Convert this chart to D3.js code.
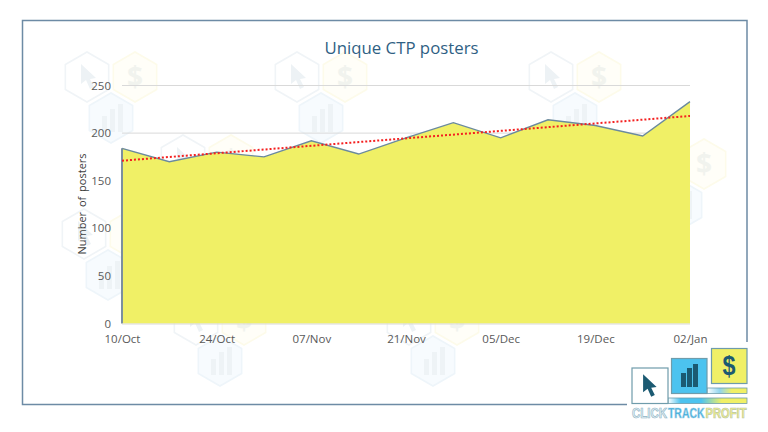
<!DOCTYPE html>
<html>
<head>
<meta charset="utf-8">
<script src="https://cdnjs.cloudflare.com/ajax/libs/d3/7.8.5/d3.min.js"></script>
<style>
html, body { margin: 0; padding: 0; background: #fff; }
svg { display: block; }
text { font-family: "Open Sans", "Noto Sans", sans-serif; }
</style>
</head>
<body>
<svg id="chart" width="768" height="432"></svg>
<script>
var weeks = ["10/Oct", "17/Oct", "24/Oct", "31/Oct", "07/Nov", "14/Nov", "21/Nov", "28/Nov", "05/Dec", "12/Dec", "19/Dec", "26/Dec", "02/Jan"];
var posters = [184, 170, 180, 175, 192, 178, 195, 211, 195, 214, 208, 197, 233];
var trendEnds = [171, 218];
var yTicks = [0, 50, 100, 150, 200, 250];
var xTicks = ["10/Oct", "24/Oct", "07/Nov", "21/Nov", "05/Dec", "19/Dec", "02/Jan"];
var watermarks = [[111, 118], [321, 118], [575, 118], [207, 201], [435, 201], [680, 205], [108, 275], [220, 361], [433, 361]];

var svg = d3.select("#chart");
var margin = {top: 85.5, bottom: 323.5, left: 122, right: 690};

var x = d3.scalePoint().domain(weeks).range([margin.left, margin.right]);
var y = d3.scaleLinear().domain([0, 250]).range([margin.bottom, margin.top]);

// background logo pattern, drawn first so the chart sits over it
function hexPath(r) {
    var pts = d3.range(6).map(function (i) {
        var a = Math.PI / 3 * i + Math.PI / 6;
        return [r * Math.cos(a), r * Math.sin(a)];
    });
    return d3.line()(pts) + "Z";
}
var cursorPath = "M-6,-13 L-6,7 L-1,3 L3,12 L7,10 L3,2 L9,1 Z";
var mark = svg.append("g").attr("class", "watermark").selectAll("g")
    .data(watermarks).enter().append("g")
    .attr("transform", function (d) { return "translate(" + d[0] + "," + d[1] + ")"; });

// bars hex
mark.append("path").attr("d", hexPath(25)).attr("fill", "#f7fbfe").attr("stroke", "#eef5fa").attr("stroke-width", 1.6);
[-9, -1, 7].forEach(function (dx, i) {
    mark.append("rect").attr("x", dx).attr("width", 5)
        .attr("y", [-2, -9, -14][i]).attr("height", [16, 23, 28][i]).attr("fill", "#eef3f6");
});
// cursor hex
var cur = mark.append("g").attr("transform", "translate(-24,-41)");
cur.append("path").attr("d", hexPath(25)).attr("fill", "#fff").attr("stroke", "#f0f4f7").attr("stroke-width", 1.6);
cur.append("path").attr("d", cursorPath).attr("fill", "#edf2f5");
// dollar hex
var dol = mark.append("g").attr("transform", "translate(24,-41)");
dol.append("path").attr("d", hexPath(25)).attr("fill", "#fffef8").attr("stroke", "#fdfbea").attr("stroke-width", 1.6);
dol.append("text").attr("text-anchor", "middle").attr("y", 10).attr("font-size", 28)
    .attr("font-weight", 700).attr("fill", "#f1f3ee").text("$");

// frame, open at the lower right where the logo sits
svg.append("path")
    .attr("d", "M627,404.5 H22.5 V20.5 H747 V342")
    .attr("fill", "none").attr("stroke", "#6d8ba5").attr("stroke-width", 1.5);

// gridlines
svg.append("g").selectAll("line")
    .data(yTicks.slice(1)).enter().append("line")
    .attr("x1", margin.left).attr("x2", margin.right)
    .attr("y1", function (d) { return y(d); }).attr("y2", function (d) { return y(d); })
    .attr("stroke", "#d9d9d9").attr("stroke-width", 1);

// area and its outline
var area = d3.area()
    .x(function (d, i) { return x(weeks[i]); })
    .y0(y(0))
    .y1(function (d) { return y(d); });
svg.append("path").datum(posters).attr("d", area).attr("fill", "#f0f066");

var outline = d3.line()
    .x(function (d, i) { return x(weeks[i]); })
    .y(function (d) { return y(d); });
svg.append("path").datum(posters).attr("d", outline)
    .attr("fill", "none").attr("stroke", "#6b8a9e").attr("stroke-width", 1.4);
svg.append("line")
    .attr("x1", x(weeks[0])).attr("x2", x(weeks[0]))
    .attr("y1", y(0)).attr("y2", y(posters[0]))
    .attr("stroke", "#7b8f9f").attr("stroke-width", 2);
svg.append("line")
    .attr("x1", margin.left).attr("x2", margin.right)
    .attr("y1", y(0) + 0.5).attr("y2", y(0) + 0.5)
    .attr("stroke", "#d9d9d9").attr("stroke-width", 1);

// trendline
svg.append("line")
    .attr("x1", x(weeks[0])).attr("x2", x(weeks[weeks.length - 1]))
    .attr("y1", y(trendEnds[0])).attr("y2", y(trendEnds[1]))
    .attr("stroke", "#f42020").attr("stroke-width", 2).attr("stroke-dasharray", "2 2");

// axes
var yAxis = d3.axisLeft(y).tickValues(yTicks).tickSize(0).tickPadding(11);
var gy = svg.append("g").attr("transform", "translate(" + margin.left + ",0)").call(yAxis);
gy.select(".domain").remove();
gy.selectAll("text").attr("font-size", 11.5).attr("fill", "#595959")
    .style("font-family", '"Open Sans", sans-serif');

var xAxis = d3.axisBottom(x).tickValues(xTicks).tickSize(0).tickPadding(11);
var gx = svg.append("g").attr("transform", "translate(0," + margin.bottom + ")").call(xAxis);
gx.select(".domain").remove();
gx.selectAll("text").attr("font-size", 11.5).attr("fill", "#595959")
    .style("font-family", '"Open Sans", sans-serif');

svg.append("text")
    .attr("x", 401.5).attr("y", 54).attr("text-anchor", "middle")
    .attr("font-size", 16.8).attr("fill", "#2f5f84").text("Unique CTP posters");

svg.append("text")
    .attr("transform", "translate(85.5,204) rotate(-90)").attr("text-anchor", "middle")
    .attr("font-size", 11).attr("fill", "#404040").attr("word-spacing", 2).text("Number of posters");

// logo
var defs = svg.append("defs");
var stripLong = defs.append("linearGradient").attr("id", "stripLong");
stripLong.append("stop").attr("offset", "0%").attr("stop-color", "#ffffff");
stripLong.append("stop").attr("offset", "16%").attr("stop-color", "#4cc3ef");
stripLong.append("stop").attr("offset", "42%").attr("stop-color", "#4cc3ef");
stripLong.append("stop").attr("offset", "68%").attr("stop-color", "#f0f066");
stripLong.append("stop").attr("offset", "100%").attr("stop-color", "#f0f066");
var stripShort = defs.append("linearGradient").attr("id", "stripShort");
stripShort.append("stop").attr("offset", "0%").attr("stop-color", "#ffffff");
stripShort.append("stop").attr("offset", "32%").attr("stop-color", "#8fd5ee");
stripShort.append("stop").attr("offset", "62%").attr("stop-color", "#f0f066");
stripShort.append("stop").attr("offset", "100%").attr("stop-color", "#f0f066");

var logoLine = "#6f9cab";
var logo = svg.append("g").attr("class", "logo");
logo.append("rect").attr("x", 668).attr("y", 398).attr("width", 79).attr("height", 5.5)
    .attr("fill", "url(#stripLong)").attr("stroke", logoLine).attr("stroke-width", 0.8);
logo.append("rect").attr("x", 707).attr("y", 388).attr("width", 40).attr("height", 5.5)
    .attr("fill", "url(#stripShort)").attr("stroke", logoLine).attr("stroke-width", 0.8);
logo.append("rect").attr("x", 632).attr("y", 368).attr("width", 36).attr("height", 35.5)
    .attr("fill", "#fff").attr("stroke", logoLine).attr("stroke-width", 1.2);
logo.append("rect").attr("x", 671.5).attr("y", 358.5).attr("width", 35.5).attr("height", 35)
    .attr("fill", "#4cc3ef").attr("stroke", logoLine).attr("stroke-width", 1.2);
logo.append("rect").attr("x", 711.5).attr("y", 348.5).attr("width", 35.5).attr("height", 35)
    .attr("fill", "#f0f066").attr("stroke", logoLine).attr("stroke-width", 1.2);
logo.append("path").attr("d", cursorPath).attr("transform", "translate(648.5,386) scale(0.9)").attr("fill", "#1b5a72");
[[681, 373], [687, 368], [693, 364]].forEach(function (b) {
    logo.append("rect").attr("x", b[0]).attr("y", b[1]).attr("width", 5).attr("height", 387 - b[1]).attr("fill", "#1b5a72");
});
logo.append("text").attr("x", 722.5).attr("y", 374.5)
    .attr("font-size", 28).attr("font-weight", 700).attr("fill", "#1b5a72")
    .attr("textLength", 13).attr("lengthAdjust", "spacingAndGlyphs")
    .style("font-family", '"Liberation Sans", sans-serif').text("$");

var brandParts = [
    {label: "CLICK", start: 632, len: 35, fill: "#e6f0f4", edge: "#8fb5c6"},
    {label: "TRACK", start: 668, len: 36.5, fill: "#39a9d8", edge: "#a5d5ea"},
    {label: "PROFIT", start: 705.5, len: 41, fill: "#eeee88", edge: "#b9c6a8"}
];
brandParts.forEach(function (b) {
    var t = logo.append("text")
        .attr("font-size", 14.5).attr("font-weight", 700)
        .attr("fill", b.fill).attr("stroke", b.edge).attr("stroke-width", 0.7)
        .style("font-family", '"Liberation Sans", sans-serif').text(b.label);
    // squeeze each word to the width it has in the logo
    var natural = t.node().getComputedTextLength();
    t.attr("transform", "translate(" + b.start + ",417.5) scale(" + (b.len / natural) + ",1)");
});
</script>
</body>
</html>
